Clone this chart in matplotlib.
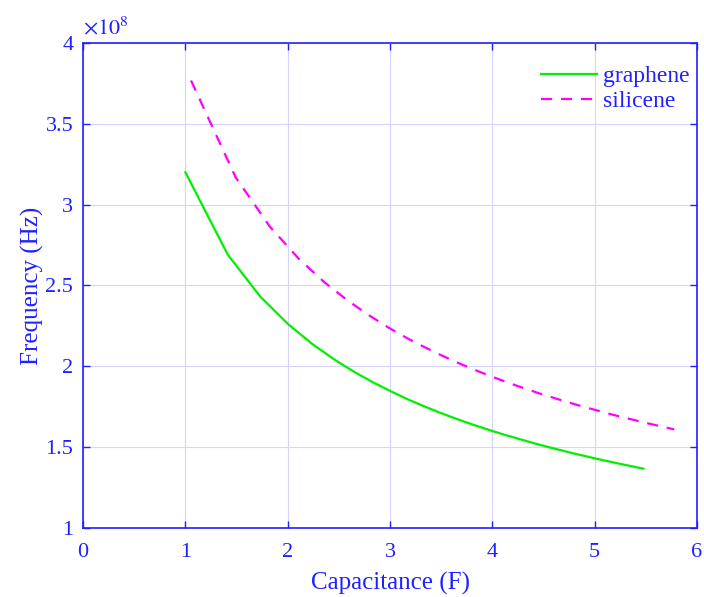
import matplotlib.pyplot as plt

# values (y in units of 1e8 Hz)
cap_graphene = [1.000, 1.414, 1.732, 2.000, 2.236, 2.449, 2.646, 2.828, 3.000, 3.162,
                3.317, 3.464, 3.606, 3.742, 3.873, 4.000, 4.123, 4.243, 4.359, 4.472,
                4.583, 4.690, 4.796, 4.899, 5.000, 5.099, 5.196, 5.292, 5.385, 5.477]
freq_graphene = [3.200, 2.691, 2.431, 2.263, 2.140, 2.045, 1.967, 1.903, 1.848, 1.799,
                 1.757, 1.719, 1.685, 1.654, 1.626, 1.600, 1.576, 1.554, 1.533, 1.513,
                 1.495, 1.478, 1.461, 1.446, 1.431, 1.417, 1.404, 1.391, 1.379, 1.367]
cap_silicene = [1.055, 1.492, 1.827, 2.110, 2.359, 2.584, 2.791, 2.984, 3.165, 3.336,
                3.499, 3.655, 3.804, 3.948, 4.086, 4.220, 4.350, 4.476, 4.599, 4.718,
                4.835, 4.948, 5.060, 5.168, 5.275, 5.379, 5.482, 5.582, 5.681, 5.778]
freq_silicene = [3.768, 3.168, 2.863, 2.664, 2.520, 2.408, 2.317, 2.240, 2.175, 2.119,
                 2.069, 2.024, 1.984, 1.948, 1.915, 1.884, 1.856, 1.829, 1.805, 1.782,
                 1.760, 1.740, 1.721, 1.702, 1.685, 1.669, 1.653, 1.638, 1.624, 1.610]
xticks = [0, 1, 2, 3, 4, 5, 6]
yticks = [1, 1.5, 2, 2.5, 3, 3.5, 4]
ytick_labels = ['1', '1.5', '2', '2.5', '3', '3.5', '4']

blue = '#2020ff'
plt.rcParams['font.family'] = ['Liberation Serif', 'DejaVu Serif']

fig = plt.figure(figsize=(7.04, 5.97), dpi=100)
ax = fig.add_axes([0.118, 0.1156, 0.872, 0.8124])

ax.plot(cap_graphene, freq_graphene, color='#00f000', lw=1.6, label='graphene')
ax.plot(cap_silicene, freq_silicene, color='#ff00ff', lw=1.6, ls=(0, (5, 4)), label='silicene')

ax.set_xlim(0, 6)
ax.set_ylim(1, 4)
ax.set_xticks(xticks)
ax.set_yticks(yticks)
ax.set_yticklabels(ytick_labels)
ax.grid(True, color='#d4d4ff', lw=0.8)
ax.set_axisbelow(True)

ax.tick_params(direction='in', colors=blue, labelsize=16, length=5, width=1,
               top=True, right=True)
ax.tick_params(axis='x', pad=11)
ax.tick_params(axis='y', pad=7)
for s in ax.spines.values():
    s.set_color(blue)
    s.set_linewidth(1.2)

ax.set_xlabel('Capacitance (F)', color=blue, fontsize=18, labelpad=7)
ax.set_ylabel('Frequency (Hz)', color=blue, fontsize=18, labelpad=1)
ax.text(0.0, 1.008, r'$\times10^{8}$', transform=ax.transAxes, color=blue,
        fontsize=16, ha='left', va='bottom', math_fontfamily='stix')

leg = ax.legend(loc='upper right', frameon=False, fontsize=17, handlelength=2.4,
                handletextpad=0.25, labelspacing=0.15, bbox_to_anchor=(1.023, 0.997))
for t in leg.get_texts():
    t.set_color(blue)

fig.savefig('out.png', dpi=100)
